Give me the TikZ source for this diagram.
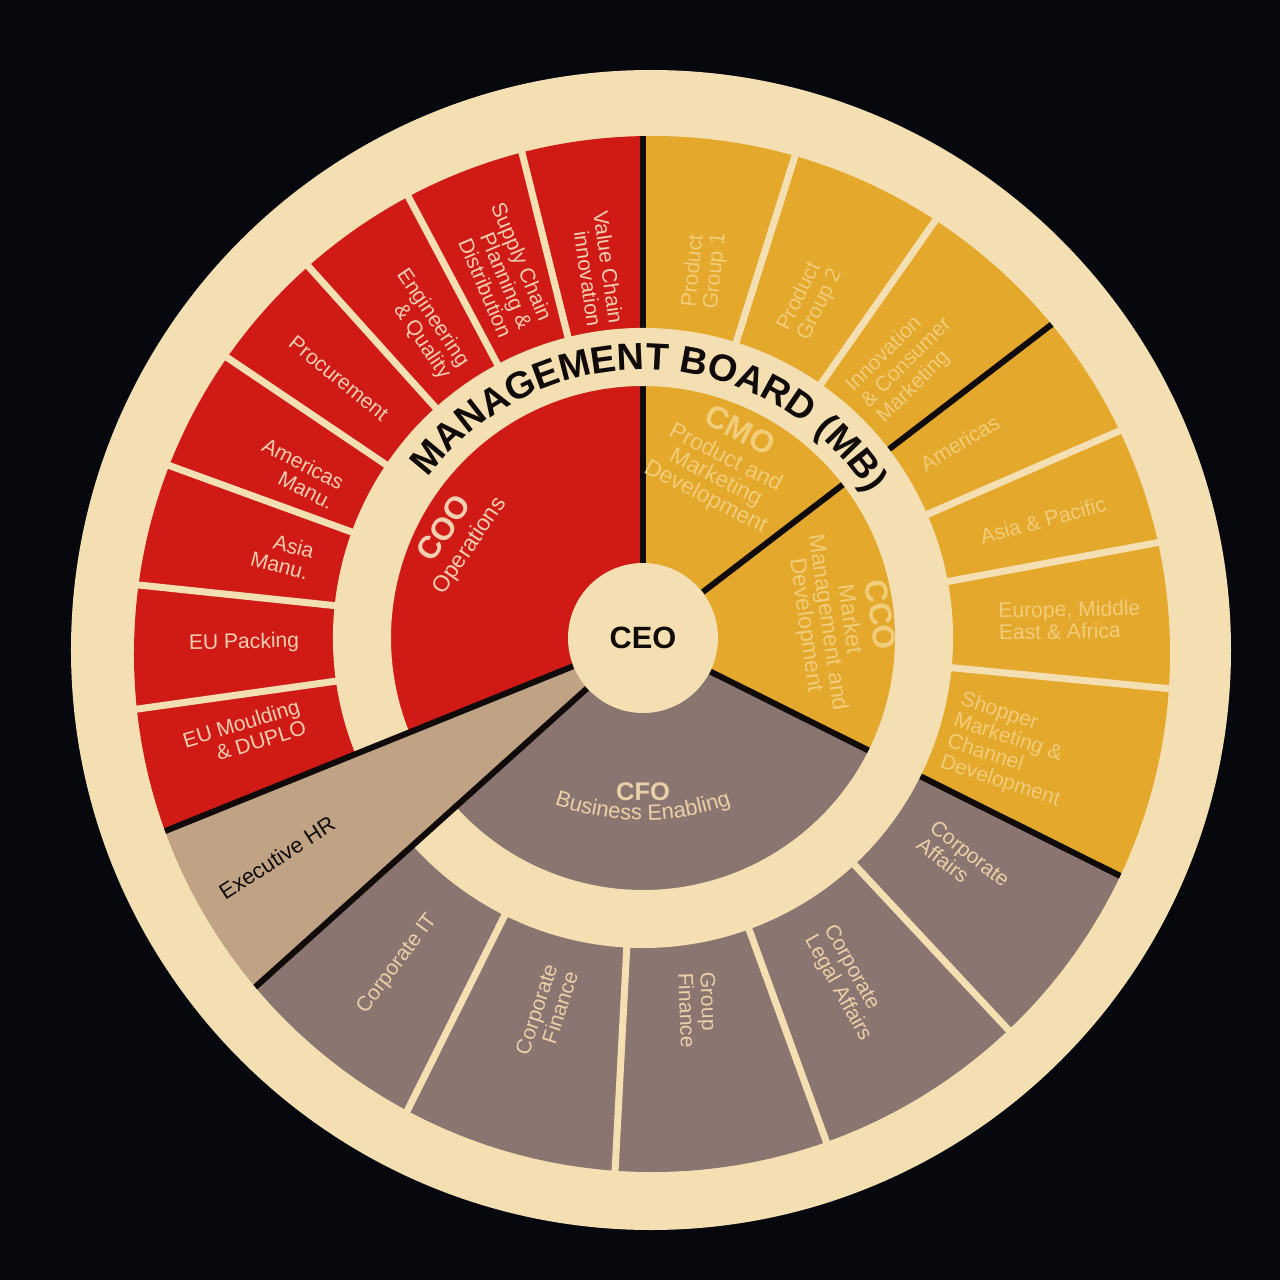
\documentclass[tikz,border=0pt]{standalone}
\usepackage{fontspec}
\setmainfont{Liberation Sans}
\usetikzlibrary{decorations.text}

\definecolor{night}{RGB}{6,8,14}
\definecolor{plate}{RGB}{244,223,178}
\definecolor{opsred}{RGB}{208,26,22}
\definecolor{mktyellow}{RGB}{227,168,44}
\definecolor{fingrey}{RGB}{138,117,112}
\definecolor{hrtan}{RGB}{192,163,133}
\definecolor{onred}{RGB}{244,206,176}
\definecolor{onyellow}{RGB}{241,205,122}
\definecolor{ongrey}{RGB}{232,208,168}
\definecolor{ink}{RGB}{16,11,9}

\newcommand{\boardfont}{\bfseries\fontsize{21.5}{22}\selectfont}
\newcommand{\titlefont}{\bfseries\fontsize{18}{18}\selectfont}

\begin{document}
\begin{tikzpicture}[x=0.2mm,y=0.2mm]
\tikzset{unit/.style={font=\fontsize{12}{12.5}\selectfont,inner sep=0pt},
  unitin/.style={unit,align=right},
  unitout/.style={unit,align=left},
  chief/.style={font=\fontsize{13}{12.5}\selectfont,align=center,inner sep=0pt},
  gap/.style={draw=plate,line width=1.4mm},
  split/.style={draw=ink,line width=1.2mm}}

\fill[night] (-643,-642) rectangle (637,638);
\fill[plate] (8,-12) circle (580);

\node[circle,minimum size=30mm,inner sep=0pt] (ceo) at (0,0) {};

\begin{scope}
\clip (9,-16) circle (518);
\fill[opsred] (0,0) -- (90:600) arc[start angle=90,end angle=202,radius=600] -- cycle;
\fill[hrtan] (0,0) -- (202:600) arc[start angle=202,end angle=222,radius=600] -- cycle;
\fill[fingrey] (0,0) -- (222:600) arc[start angle=222,end angle=333.5,radius=600] -- cycle;
\fill[mktyellow] (0,0) -- (-26.5:600) arc[start angle=-26.5,end angle=90,radius=600] -- cycle;
\draw[split] (ceo) -- (90:600);
\draw[split] (ceo) -- (37.5:600);
\draw[split] (ceo) -- (-26.5:600);
\fill[plate] (222:252) arc[start angle=222,end angle=562,radius=252] -- (562:310) arc[start angle=562,end angle=222,radius=310] -- cycle;
\draw[split] (ceo) -- (202:600);
\draw[split] (ceo) -- (222:600);
\end{scope}

\foreach \a in {104,118,132,146,160,174,188,72.5,55,23.5,10.5,-5.5,-47,-70,-93,-116.5}
  \draw[gap] (\a:306) -- (\a:540);

\node[circle,fill=plate,minimum size=30mm,inner sep=0pt,text=ink,font=\bfseries\fontsize{17.5}{18}\selectfont] at (ceo) {CEO};

\path[decorate,decoration={text along path,text align=center,text={|\boardfont\color{ink}|MANAGEMENT BOARD (MB)}}] (158:268) arc[start angle=158,end angle=18,radius=268];

\node[chief,text=onred,rotate=56] (coo) at (151.5:212) {{\titlefont COO}\\[3pt]Operations};
\node[chief,text=onyellow,rotate=-27] (cmo) at (65.4:192) {{\titlefont CMO}\\[3pt]Product and\\Marketing\\Development};
\node[chief,text=onyellow,rotate=-82] (cco) at (5.1:201) {{\titlefont CCO}\\[3pt]Market\\Management and\\Development};
\node[font=\bfseries\fontsize{14.5}{15}\selectfont,text=ongrey,inner sep=0pt] (cfo) at (0,-154) {CFO};
\path[decorate,decoration={text along path,text align=center,text={|\fontsize{12.5}{13}\selectfont\color{ongrey}|Business Enabling}},shift={(0,78)}] (-112:260) arc[start angle=-112,end angle=-68,radius=260];

\node[unitin,text=onred,rotate=-82] (vci) at (97:372) {Value Chain\\innovation};
\node[unitin,text=onred,rotate=-67] (scpd) at (111:394) {Supply Chain\\Planning \&\\Distribution};
\node[unitin,text=onred,rotate=-56] (eq) at (125:383) {Engineering\\\& Quality};
\node[unitin,text=onred,rotate=-39] (proc) at (139.5:400) {Procurement};
\node[unitin,text=onred,rotate=-27] (amman) at (154.5:382) {Americas\\Manu.};
\node[unitin,text=onred,rotate=-15] (asman) at (167:370) {Asia\\Manu.};
\node[unitin,text=onred,rotate=1] (eupack) at (180.7:399) {EU Packing};
\node[unitin,text=onred,rotate=17] (eumould) at (193.5:410) {EU Moulding\\\& DUPLO};
\node[unitin,text=ink,rotate=33,font=\fontsize{12.5}{13}\selectfont] (exechr) at (211:427) {Executive HR};

\node[unitout,text=onyellow,rotate=84] (pg1) at (80.5:373) {Product\\Group 1};
\node[unitout,text=onyellow,rotate=64] (pg2) at (63.7:377) {Product\\Group 2};
\node[unitout,text=onyellow,rotate=45] (icm) at (46.2:381) {Innovation\\\& Consumer\\Marketing};
\node[unitout,text=onyellow,rotate=31] (amer) at (31.6:372) {Americas};
\node[unitout,text=onyellow,rotate=15] (asiapac) at (16.4:417) {Asia \& Pacific};
\node[unitout,text=onyellow,rotate=1] (emea) at (2.4:427) {Europe, Middle\\East \& Africa};
\node[unitout,text=onyellow,rotate=-18] (shopper) at (-17:384) {Shopper\\Marketing \&\\Channel\\Development};
\node[unitout,text=ongrey,rotate=-38] (corpaff) at (-35:391) {Corporate\\Affairs};
\node[unitout,text=ongrey,rotate=-61] (legal) at (-59.4:401) {Corporate\\Legal Affairs};
\node[unitout,text=ongrey,rotate=-88] (grpfin) at (-81.6:376) {Group\\Finance};
\node[unitin,text=ongrey,rotate=72] (corpfin) at (-104.4:387) {Corporate\\Finance};
\node[unitin,text=ongrey,rotate=53] (corpit) at (-127:408) {Corporate IT};
\end{tikzpicture}
\end{document}
